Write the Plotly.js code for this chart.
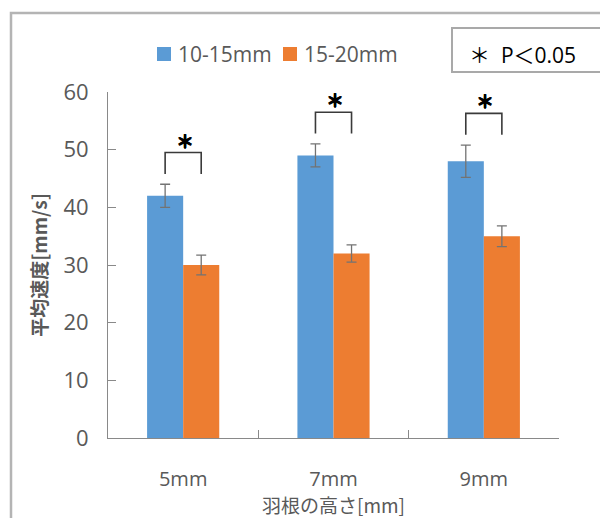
<!DOCTYPE html>
<html>
<head>
<meta charset="utf-8">
<script src="https://cdn.plot.ly/plotly-3.0.1.min.js"></script>
<style>
  html, body { margin: 0; padding: 0; background: #ffffff; }
  #chart { width: 600px; height: 518px; }
</style>
</head>
<body>
<div id="chart"></div>
<script>
// Mean speed by blade height, two particle size groups
const categories = ['5mm', '7mm', '9mm'];
const seriesNames = ['10-15mm', '15-20mm'];
const speedSmall = [42, 49, 48];
const errSmall = [2, 2, 2.8];
const speedLarge = [30, 32, 35];
const errLarge = [1.7, 1.5, 1.8];
const significant = [true, true, true];
const sigLabel = '＊  P＜0.05';

const colors = ['#5b9bd5', '#ed7d31'];
const textGray = '#595959';
const axisGray = '#898989';
const latin = 'Open Sans, Noto Sans CJK JP, sans-serif';
const cjk = 'Noto Sans CJK JP, sans-serif';
const heavy = '0.5px 0 0 #000, -0.5px 0 0 #000, 0 0.5px 0 #000';

// plot area in page pixels
const W = 600, H = 518, L = 108, R = 559, T = 92, B = 438;
const px = x => (x - L) / (R - L);
const py = y => (B - y) / (B - T);

const errStyle = (arr) => ({
  type: 'data', array: arr, visible: true,
  color: '#737373', thickness: 1.3, width: 5
});

const traces = [
  { type: 'bar', name: seriesNames[0], x: categories, y: speedSmall,
    marker: { color: colors[0], line: { width: 0 } }, error_y: errStyle(errSmall) },
  { type: 'bar', name: seriesNames[1], x: categories, y: speedLarge,
    marker: { color: colors[1], line: { width: 0 } }, error_y: errStyle(errLarge) }
];

const shapes = [];
const annotations = [];

// outer chart frame (left and top edges visible)
shapes.push({ type: 'rect', xref: 'paper', yref: 'paper',
  x0: px(11), x1: px(640), y0: py(560), y1: py(13),
  line: { color: '#b4b4b4', width: 2.5 }, fillcolor: 'rgba(0,0,0,0)', layer: 'below' });

// significance note box
shapes.push({ type: 'rect', xref: 'paper', yref: 'paper',
  x0: px(452), x1: px(640), y0: py(72), y1: py(28),
  line: { color: '#a9a9a9', width: 2 }, fillcolor: 'rgba(0,0,0,0)' });
annotations.push({ xref: 'paper', yref: 'paper', x: px(467), y: py(55),
  xanchor: 'left', yanchor: 'middle', showarrow: false, text: sigLabel,
  font: { family: latin, size: 21, color: '#000000' } });

// legend drawn as swatches + labels
const legendX = [157, 283];
seriesNames.forEach((name, i) => {
  shapes.push({ type: 'rect', xref: 'paper', yref: 'paper',
    x0: px(legendX[i]), x1: px(legendX[i] + 14), y0: py(61), y1: py(47),
    line: { width: 0 }, fillcolor: colors[i] });
  annotations.push({ xref: 'paper', yref: 'paper', x: px(legendX[i] + 19), y: py(54),
    xanchor: 'left', yanchor: 'middle', showarrow: false, text: name,
    font: { family: latin, size: 21, color: textGray } });
});

// significance brackets between the paired bars
const off = 0.12;
categories.forEach((c, i) => {
  if (!significant[i]) return;
  const top = Math.max(speedSmall[i] + errSmall[i], speedLarge[i] + errLarge[i]) + 5.5;
  const bottom = top - 3.7;
  const lineStyle = { color: '#3a3a3a', width: 1.6 };
  shapes.push({ type: 'path', xref: 'x', yref: 'y',
    path: `M ${i - off} ${bottom} L ${i - off} ${top} L ${i + off} ${top} L ${i + off} ${bottom}`,
    line: lineStyle });
  annotations.push({ xref: 'x', yref: 'y', x: i + 0.01, y: top, xanchor: 'center', yanchor: 'bottom',
    yshift: -2, showarrow: false, text: '＊',
    font: { family: cjk, size: 18, color: '#000000', weight: 700, shadow: heavy } });
});

const layout = {
  width: W, height: H,
  margin: { l: L, r: W - R, t: T, b: H - B, pad: 0 },
  paper_bgcolor: '#ffffff', plot_bgcolor: '#ffffff',
  showlegend: false,
  barmode: 'group', bargap: 0.52, bargroupgap: 0,
  xaxis: {
    type: 'category', showline: true, linecolor: axisGray, linewidth: 1,
    ticks: 'inside', ticklen: 8, tickcolor: axisGray, tickson: 'boundaries',
    showgrid: false, zeroline: false,
    tickfont: { family: latin, size: 20, color: textGray },
    ticklabelstandoff: 23,
    title: { text: '羽根の高さ[mm]', standoff: 17,
      font: { family: cjk, size: 19, color: textGray } },
    automargin: false
  },
  yaxis: {
    range: [0, 60], dtick: 10, showline: true, linecolor: axisGray, linewidth: 1,
    ticks: 'inside', ticklen: 8, tickcolor: axisGray,
    showgrid: false, zeroline: false,
    tickfont: { family: latin, size: 22, color: textGray },
    ticklabelstandoff: 14,
    title: { text: '平均速度[mm/s]', standoff: 10,
      font: { family: cjk, size: 19, color: textGray, weight: 700 } },
    automargin: false
  },
  shapes: shapes,
  annotations: annotations
};

Plotly.newPlot('chart', traces, layout, { staticPlot: true, displayModeBar: false });
</script>
</body>
</html>
